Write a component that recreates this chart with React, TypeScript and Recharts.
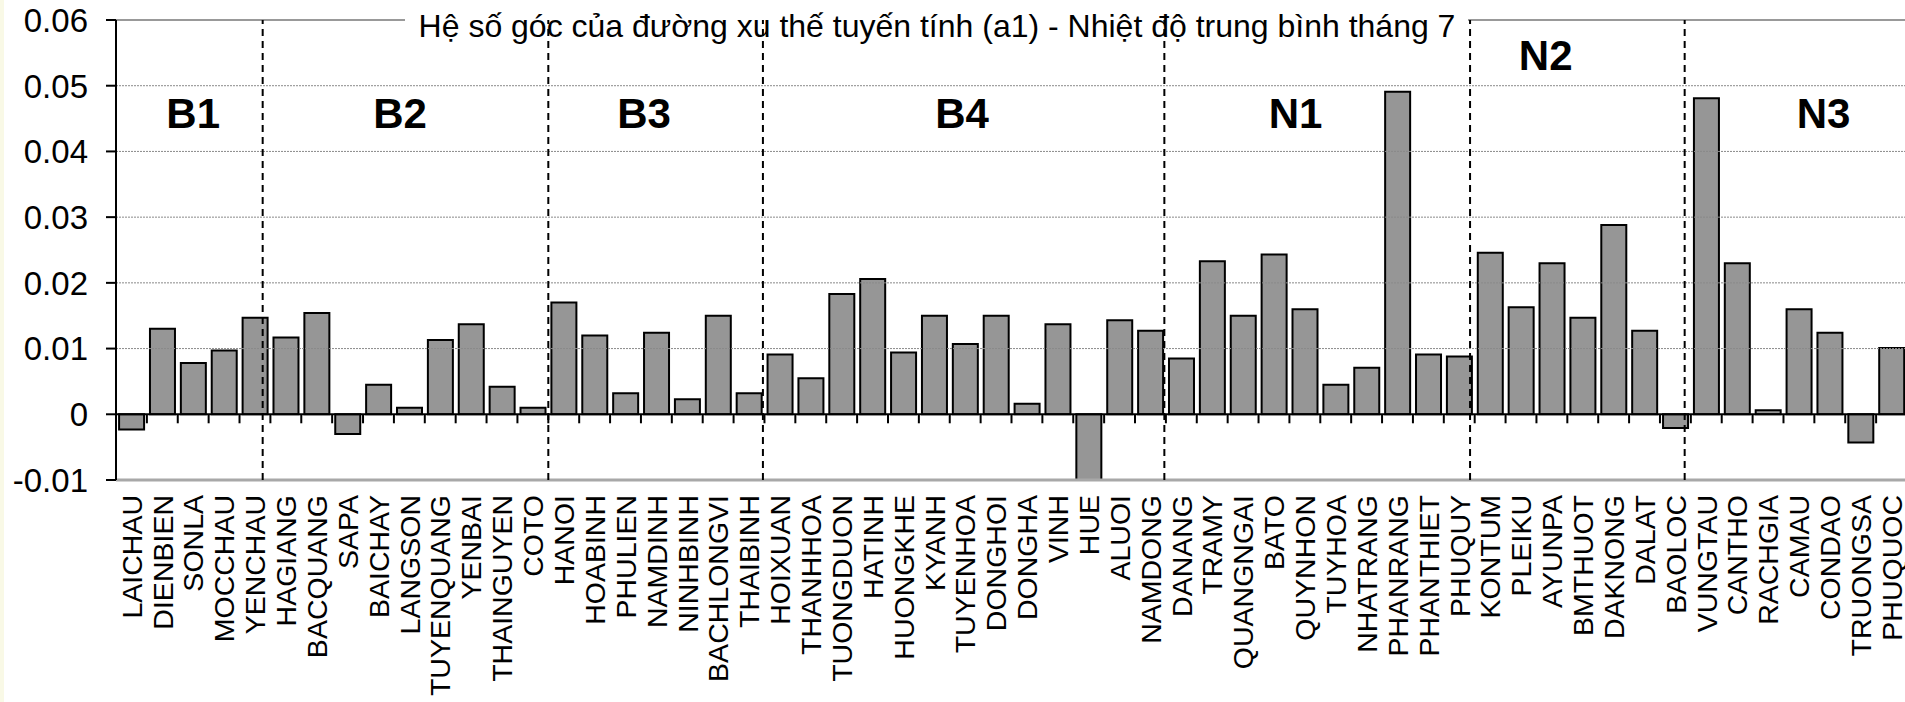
import React from 'react';
import { BarChart, Bar, XAxis, YAxis, ReferenceLine, ReferenceDot } from 'recharts';

// Stations, in the order they sit on the category axis
const stations = [
  'LAICHAU', 'DIENBIEN', 'SONLA', 'MOCCHAU', 'YENCHAU',
  'HAGIANG', 'BACQUANG', 'SAPA', 'BAICHAY', 'LANGSON', 'TUYENQUANG', 'YENBAI', 'THAINGUYEN', 'COTO',
  'HANOI', 'HOABINH', 'PHULIEN', 'NAMDINH', 'NINHBINH', 'BACHLONGVI', 'THAIBINH',
  'HOIXUAN', 'THANHHOA', 'TUONGDUON', 'HATINH', 'HUONGKHE', 'KYANH', 'TUYENHOA', 'DONGHOI', 'DONGHA', 'VINH', 'HUE', 'ALUOI', 'NAMDONG',
  'DANANG', 'TRAMY', 'QUANGNGAI', 'BATO', 'QUYNHON', 'TUYHOA', 'NHATRANG', 'PHANRANG', 'PHANTHIET', 'PHUQUY',
  'KONTUM', 'PLEIKU', 'AYUNPA', 'BMTHUOT', 'DAKNONG', 'DALAT', 'BAOLOC',
  'VUNGTAU', 'CANTHO', 'RACHGIA', 'CAMAU', 'CONDAO', 'TRUONGSA', 'PHUQUOC',
];

// Slope a1 of the linear trend, July mean temperature
const slopes = [
  -0.0023, 0.013, 0.0078, 0.0097, 0.0147,
  0.0117, 0.0154, -0.003, 0.0045, 0.001, 0.0113, 0.0137, 0.0042, 0.001,
  0.017, 0.012, 0.0032, 0.0124, 0.0023, 0.015, 0.0032,
  0.0091, 0.0055, 0.0183, 0.0206, 0.0094, 0.015, 0.0107, 0.015, 0.0016, 0.0137, -0.0106, 0.0143, 0.0127,
  0.0085, 0.0233, 0.015, 0.0243, 0.016, 0.0045, 0.0071, 0.0491, 0.0091, 0.0088,
  0.0246, 0.0163, 0.023, 0.0147, 0.0288, 0.0127, -0.0021,
  0.0481, 0.023, 0.0006, 0.016, 0.0124, -0.0043, 0.0101,
];

const yTicks = [-0.01, 0, 0.01, 0.02, 0.03, 0.04, 0.05, 0.06];
const gridValues = [0.01, 0.02, 0.03, 0.04, 0.05];

// climate regions: label spot and divider lines, in station units / values
const groupNames = ['B1', 'B2', 'B3', 'B4', 'N1', 'N2', 'N3'];
const groupLabelAt = [2.5, 9.2, 17.1, 27.4, 38.2, 46.3, 55.3];
const groupLabelY = [0.0459, 0.0459, 0.0459, 0.0459, 0.0459, 0.0547, 0.0459];
const groupDividerAt = [4.75, 14, 20.95, 33.95, 43.85, 50.8];

const title = 'Hệ số góc của đường xu thế tuyến tính (a1) - Nhiệt độ trung bình tháng 7';

const data = stations.map((name, i) => ({ name, value: slopes[i] }));

const FONT = '"Liberation Sans", Arial, sans-serif';
const CHART_W = 1907;
const Y_AXIS_W = 116;
const BAND = (CHART_W - Y_AXIS_W) / stations.length;

const StationTick = (props: any) => {
  const { x, y, payload } = props;
  return (
    <text
      transform={`translate(${x},${y}) rotate(-90)`}
      textAnchor="end"
      dy="0.36em"
      fontSize={28.5}
      fontFamily={FONT}
      fill="#000"
    >
      {payload.value}
    </text>
  );
};

const ValueTick = (props: any) => {
  const { x, y, payload } = props;
  const v = payload.value;
  return (
    <text x={x} y={y} dy="0.36em" textAnchor="end" fontSize={33} fontFamily={FONT} fill="#000">
      {v === 0 ? '0' : v.toFixed(2)}
    </text>
  );
};

// top border line, broken where the title sits
const TopLine = (p: any) => (
  <g>
    <line x1={p.x1} y1={p.y1} x2={405} y2={p.y2} stroke="#999" strokeWidth={2} />
    <line x1={1468} y1={p.y1} x2={p.x2} y2={p.y2} stroke="#999" strokeWidth={2} />
  </g>
);

const ZeroTick = (p: any) => (
  <line x1={p.x1} y1={p.y1} x2={p.x1} y2={p.y1 + 9} stroke="#000" strokeWidth={2} />
);

const dividerShape = (shift: number) => (p: any) => (
  <line
    x1={p.x1 + shift}
    y1={p.y1}
    x2={p.x2 + shift}
    y2={p.y2}
    stroke="#000"
    strokeWidth={2}
    strokeDasharray="7 5"
  />
);

const App = () => {
  return (
    <div
      style={{
        position: 'absolute',
        left: 0,
        top: 0,
        width: 1905,
        height: 702,
        overflow: 'hidden',
        background: '#fff',
      }}
    >
      <div style={{ position: 'absolute', left: 0, top: 0, width: 4, height: 702, background: '#f9f9e6' }} />
      <BarChart
        width={CHART_W}
        height={702}
        data={data}
        margin={{ top: 20, right: 0, bottom: 0, left: 0 }}
        barCategoryGap="10%"
      >
        <XAxis
          dataKey="name"
          interval={0}
          axisLine={false}
          tickLine={false}
          tickSize={0}
          tickMargin={15}
          height={222}
          tick={<StationTick />}
        />
        <YAxis
          width={Y_AXIS_W}
          domain={[-0.01, 0.06]}
          ticks={yTicks}
          allowDataOverflow
          interval={0}
          axisLine={{ stroke: '#000', strokeWidth: 2 }}
          tickLine={{ stroke: '#000', strokeWidth: 2 }}
          tickSize={10}
          tickMargin={18}
          tick={<ValueTick />}
        />
        {gridValues.map((v) => (
          <ReferenceLine key={'g' + v} y={v} stroke="#8a8a8a" strokeWidth={1} strokeDasharray="2 1" />
        ))}
        <ReferenceLine y={-0.01} stroke="#a8a8a8" strokeWidth={3} />
        <ReferenceLine y={0.06} shape={TopLine} />
        <Bar
          dataKey="value"
          fill="#969696"
          stroke="#000"
          strokeWidth={2}
          isAnimationActive={false}
        />
        <ReferenceLine y={0} stroke="#000" strokeWidth={2} />
        {stations.slice(1).map((s) => (
          <ReferenceLine
            key={'t' + s}
            segment={[{ x: s, y: 0 }, { x: s, y: 0 }]}
            position="start"
            shape={ZeroTick}
          />
        ))}
        {groupDividerAt.map((v) => {
          const idx = Math.floor(v);
          return (
            <ReferenceLine
              key={'d' + v}
              x={stations[idx]}
              position="start"
              shape={dividerShape((v - idx) * BAND)}
            />
          );
        })}
        {groupNames.map((g, i) => {
          const idx = Math.floor(groupLabelAt[i]);
          const shift = (groupLabelAt[i] - idx - 0.5) * BAND;
          return (
            <ReferenceDot
              key={g}
              x={stations[idx]}
              y={groupLabelY[i]}
              r={0}
              shape={(p: any) => (
                <text
                  x={p.cx + shift}
                  y={p.cy}
                  textAnchor="middle"
                  dy="0.36em"
                  fontSize={42}
                  fontWeight="bold"
                  fontFamily={FONT}
                  fill="#000"
                >
                  {g}
                </text>
              )}
            />
          );
        })}
      </BarChart>
      <div
        style={{
          position: 'absolute',
          left: 937,
          top: 10,
          transform: 'translateX(-50%)',
          whiteSpace: 'nowrap',
          fontFamily: FONT,
          fontSize: 32,
          lineHeight: '32px',
          color: '#000',
          pointerEvents: 'none',
        }}
      >
        {title}
      </div>
    </div>
  );
};

export default App;
